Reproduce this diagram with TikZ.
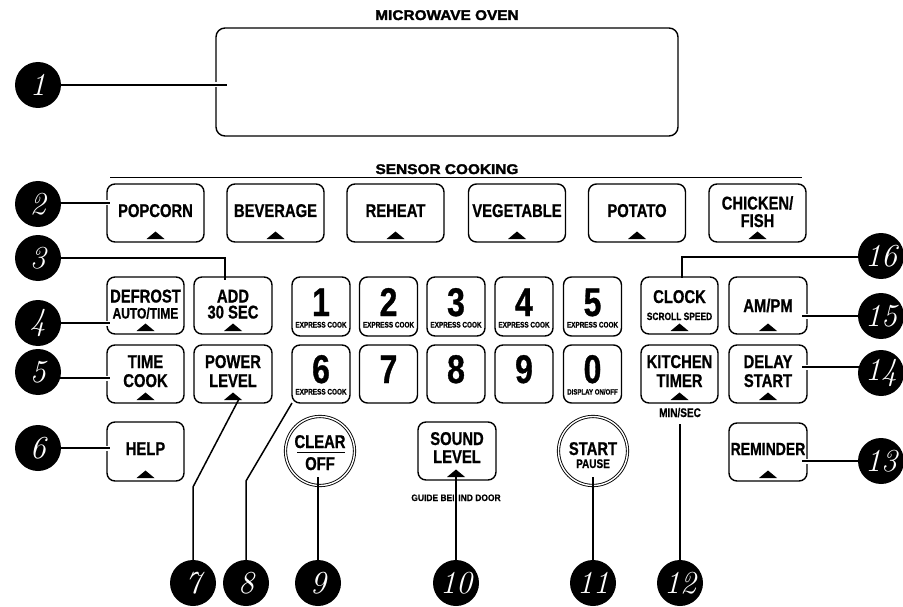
\documentclass[tikz,border=0pt]{standalone}
\usepackage{fontspec}
\usetikzlibrary{fit,calc}
\newfontfamily\mwcond[FakeStretch=0.8,FakeBold=0.8]{Liberation Sans}
\newfontfamily\mwhead[FakeStretch=1.1,FakeBold=2]{Liberation Sans}
\newfontfamily\mwplain[FakeStretch=0.9,FakeBold=0.6]{Liberation Sans}
\newcommand\mwBig{\mwcond\bfseries\fontsize{18.5}{18.5}\selectfont}
\newcommand\mwMid{\mwcond\bfseries\fontsize{15}{15}\selectfont}
\newcommand\mwSml{\mwcond\bfseries\fontsize{10.5}{10.5}\selectfont}
\newcommand\mwTiny{\mwcond\bfseries\fontsize{8}{8}\selectfont}
\newcommand\mwDig{\mwcond\bfseries\fontsize{40}{40}\selectfont}
\newcommand\mwTri[2]{\fill (#1-9,#2) -- (#1+9,#2) -- (#1,#2-7.5) -- cycle;}
\tikzset{
  btn/.style={draw, line width=1.4pt, rounded corners=8pt, inner sep=0pt},
  rbtn/.style={circle, draw, double, double distance=1.4pt, line width=0.9pt, minimum size=69pt, inner sep=0pt},
  callout/.style={circle, fill=black, minimum size=46pt, inner sep=0pt, text=white, font=\itshape\fontsize{32}{32}\selectfont},
  lead/.style={line width=1.5pt},
  halo/.style={preaction={draw=white, line width=5pt}},
  big/.style={anchor=base, inner sep=0pt, font=\mwBig},
  mid/.style={anchor=base, inner sep=0pt, font=\mwMid},
  sml/.style={anchor=base, inner sep=0pt, font=\mwSml},
  tiny/.style={anchor=base, inner sep=0pt, font=\mwTiny},
  dig/.style={anchor=base, inner sep=0pt, font=\mwDig},
  ttl/.style={anchor=base, inner sep=0pt, font=\mwhead\bfseries\fontsize{14}{14}\selectfont},
}
\begin{document}
\begin{tikzpicture}[x=1pt,y=-1pt]
\useasboundingbox (0,0) rectangle (903,607);
% display
\node[btn, rounded corners=9pt, fit={(216,28) (678,136)}] (disp) {};
\node[ttl] (tmw) at (447,20) {MICROWAVE OVEN};
\node[ttl] (tsc) at (447,174) {SENSOR COOKING};
\draw[line width=1.2pt] (110,177.5) -- (802,177.5);
% sensor row
\foreach \cx/\nm/\tx in {155.5/pop/POPCORN, 275.5/bev/BEVERAGE, 395.5/reh/REHEAT, 517/veg/VEGETABLE, 637/pot/POTATO}{
  \node[btn, fit={(\cx-48.5,184) (\cx+48.5,242)}] (\nm) {};
  \node[big] (\nm t) at (\cx,217) {\tx};
  \mwTri{\cx}{239}
}
\node[btn, fit={(709,184) (806,242)}] (chk) {};
\node[big] (chka) at (757.5,209.5) {CHICKEN/};
\node[big] (chkb) at (757.5,227) {FISH};
\mwTri{757.5}{239}
% row 2
\node[btn, fit={(107,277) (184,334)}] (def) {};
\node[big] (defa) at (145.5,302.5) {DEFROST};
\node[mid] (defb) at (145.5,318.5) {AUTO/TIME};
\mwTri{145.5}{331}
\node[btn, fit={(194,277) (272,334)}] (add) {};
\node[big] (adda) at (233,302.5) {ADD};
\node[big] (addb) at (233,318.5) {30 SEC};
\mwTri{233}{331}
\foreach \cx/\d in {321/1, 388.5/2, 456/3, 524/4, 592.5/5}{
  \node[btn, fit={(\cx-29,277) (\cx+29,336)}] (k\d) {};
  \node[dig] (k\d t) at (\cx,316) {\d};
  \node[tiny] (k\d s) at (\cx,327.5) {EXPRESS COOK};
}
\node[btn, fit={(641,277) (718,334)}] (clk) {};
\node[big] (clka) at (679.5,303) {CLOCK};
\node[sml] (clkb) at (679.5,320) {SCROLL SPEED};
\mwTri{679.5}{331}
\node[btn, fit={(729,277) (807,334)}] (ampm) {};
\node[big] (ampmt) at (768,312) {AM/PM};
\mwTri{768}{331}
% row 3
\node[btn, fit={(107,345) (184,403)}] (tc) {};
\node[big] (tca) at (145.5,368) {TIME};
\node[big] (tcb) at (145.5,387) {COOK};
\mwTri{145.5}{400}
\node[btn, fit={(194,345) (272,403)}] (pl) {};
\node[big] (pla) at (233,368) {POWER};
\node[big] (plb) at (233,387) {LEVEL};
\mwTri{233}{400}
\foreach \cx/\d in {321/6, 388.5/7, 456/8, 524/9, 592.5/0}{
  \node[btn, fit={(\cx-29,345) (\cx+29,403)}] (k\d) {};
  \node[dig] (k\d t) at (\cx,383) {\d};
}
\node[tiny] (k6s) at (321,394.5) {EXPRESS COOK};
\node[tiny, font=\mwcond\bfseries\fontsize{7.6}{7.6}\selectfont] (k0s) at (592.5,394.5) {DISPLAY ON/OFF};
\node[btn, fit={(641,345) (718,403)}] (kt) {};
\node[big] (kta) at (679.5,368) {KITCHEN};
\node[big] (ktb) at (679.5,387) {TIMER};
\mwTri{679.5}{400}
\node[sml, font=\mwcond\bfseries\fontsize{12.5}{12.5}\selectfont] (ms) at (680,417) {MIN/SEC};
\node[btn, fit={(729,345) (807,403)}] (ds) {};
\node[big] (dsa) at (768,368) {DELAY};
\node[big] (dsb) at (768,387) {START};
\mwTri{768}{400}
% row 4
\node[btn, fit={(107,422) (184,481)}] (hlp) {};
\node[big] (hlpt) at (145.5,455) {HELP};
\mwTri{145.5}{478}
\node[rbtn] (clr) at (320,451) {};
\node[big] (clra) at (320,448) {CLEAR};
\draw[line width=1.2pt] (297,452.5) -- (345,452.5);
\node[big] (clrb) at (320,470) {OFF};
\node[btn, fit={(418,422) (496,480)}] (snd) {};
\node[big] (snda) at (457,445) {SOUND};
\node[big] (sndb) at (457,463) {LEVEL};
\mwTri{456}{477}
\node[anchor=base, inner sep=0pt, font=\mwplain\bfseries\fontsize{9.4}{9.4}\selectfont] (gbd) at (456,501) {GUIDE BEHIND DOOR};
\node[rbtn] (stp) at (593,451) {};
\node[big] (stpa) at (593,455) {START};
\node[sml, font=\mwcond\bfseries\fontsize{12.5}{12.5}\selectfont] (stpb) at (593,468) {PAUSE};
\node[btn, fit={(729,423) (807,481)}] (rem) {};
\node[big, font=\mwcond\bfseries\fontsize{17.5}{17.5}\selectfont] (remt) at (768,455) {REMINDER};
\mwTri{768}{478}
% callout anchor points
\coordinate (p1) at (38,85);   \coordinate (e1) at (227,85);
\coordinate (p2) at (38,204);  \coordinate (e2) at (110,203);
\coordinate (p3) at (38,258);  \coordinate (b3) at (225,258); \coordinate (e3) at (225,280);
\coordinate (p4) at (38,323);  \coordinate (e4) at (110,323);
\coordinate (p5) at (38,372);  \coordinate (e5) at (110,378);
\coordinate (p6) at (38,448);  \coordinate (e6) at (110,448);
\coordinate (p7) at (193,583); \coordinate (b7) at (193,487); \coordinate (e7) at (239,399);
\coordinate (p8) at (246,583); \coordinate (b8) at (246,481); \coordinate (e8) at (292,403);
\coordinate (p9) at (318,583); \coordinate (e9) at (318,477);
\coordinate (p10) at (456,583); \coordinate (e10) at (456,469.5);
\coordinate (p11) at (593,583); \coordinate (e11) at (593,477);
\coordinate (p12) at (680,583); \coordinate (e12) at (680,424);
\coordinate (p13) at (881,461); \coordinate (e13) at (802,461);
\coordinate (p14) at (881,373); \coordinate (e14) at (802,367);
\coordinate (p15) at (881,316); \coordinate (e15) at (802,316);
\coordinate (p16) at (881,256); \coordinate (b16) at (682,257); \coordinate (e16) at (682,278);
% leaders
\draw[lead,halo] (p1) -- (e1);
\draw[lead,halo] (p2 |- e2) -- (e2);
\draw[lead] (p3 |- b3) -- (b3) -- (e3);
\draw[lead,halo] (p4) -- (e4);
\draw[lead,halo] (p5 |- e5) -- (e5);
\draw[lead,halo] (p6) -- (e6);
\draw[lead] (p7) -- (b7) -- (e7);
\draw[lead] (p8) -- (b8) -- (e8);
\draw[lead] (p9) -- (e9);
\draw[white, line width=4pt] (456,492) -- (456,503);
\draw[lead] (p10) -- (e10);
\draw[lead] (p11) -- (e11);
\draw[lead] (p12) -- (e12);
\draw[lead,halo] (p13) -- (e13);
\draw[lead,halo] (p14 |- e14) -- (e14);
\draw[lead,halo] (p15) -- (e15);
\draw[lead] (p16 |- b16) -- (b16) -- (e16);
% callouts
\foreach \i in {1,...,16}{
  \node[callout] (n\i) at (p\i) {\i};
}
\end{tikzpicture}
\end{document}
